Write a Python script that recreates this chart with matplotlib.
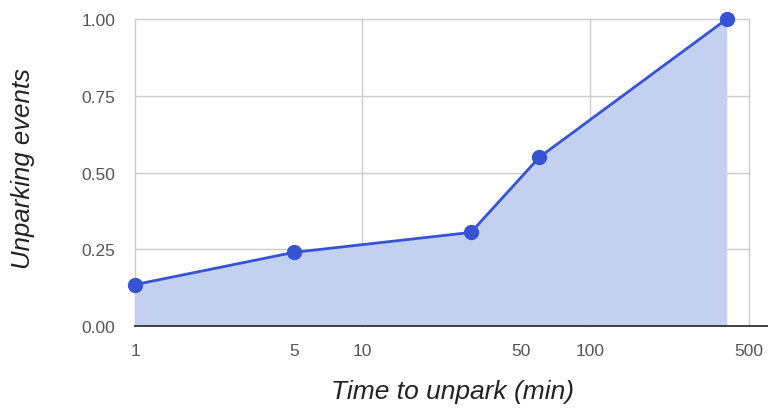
import matplotlib
matplotlib.use("Agg")
import matplotlib.pyplot as plt
from matplotlib.ticker import FixedLocator, NullLocator

plt.rcParams['font.family'] = ['Liberation Sans', 'DejaVu Sans']

tiempo_min = [1, 5, 30, 60, 400]
eventos = [0.135, 0.24, 0.305, 0.55, 1.0]
x_ticks = [1, 5, 10, 50, 100, 500]
x_grid = [1, 10, 100, 500]
y_ticks = [0.0, 0.25, 0.5, 0.75, 1.0]

color_linea = '#3553d3'
color_relleno = '#c3d0ef'

fig = plt.figure(figsize=(7.68, 4.10), dpi=100)
ax = fig.add_axes([0.1758, 0.2024, 0.975 - 0.1758, 0.951 - 0.2024])

ax.set_xscale('log')
ax.set_xlim(1, 500)
ax.set_ylim(0, 1)

ax.fill_between(tiempo_min, eventos, 0, color=color_relleno, lw=0, zorder=2)
ax.plot(tiempo_min, eventos, color=color_linea, lw=2, marker='o', ms=10,
        mfc=color_linea, mec=color_linea, zorder=4, clip_on=False)

# rejilla
for g in x_grid:
    ax.axvline(g, color='#cccccc', lw=1, zorder=1, clip_on=False)
for g in y_ticks[1:]:
    ax.axhline(g, color='#cccccc', lw=1, zorder=1, clip_on=False)
ax.plot([1, 620], [0, 0], color='#333333', lw=1.3, zorder=5, clip_on=False)

for s in ax.spines.values():
    s.set_visible(False)

ax.xaxis.set_major_locator(FixedLocator(x_ticks))
ax.xaxis.set_minor_locator(NullLocator())
ax.set_xticklabels([str(t) for t in x_ticks])
ax.set_yticks(y_ticks)
ax.set_yticklabels([f'{t:.2f}' for t in y_ticks])
ax.tick_params(length=0, labelsize=12.5, colors='#555555')
ax.tick_params(axis='x', pad=12)
ax.tick_params(axis='y', pad=14)

ax.set_xlabel('Time to unpark (min)', fontsize=19, style='italic', color='#222222')
ax.set_ylabel('Unparking events', fontsize=18.5, style='italic', color='#222222')
ax.xaxis.set_label_coords(0.517, -0.173)
ax.yaxis.set_label_coords(-0.163, 0.515)

fig.savefig('out.png', dpi=100)
